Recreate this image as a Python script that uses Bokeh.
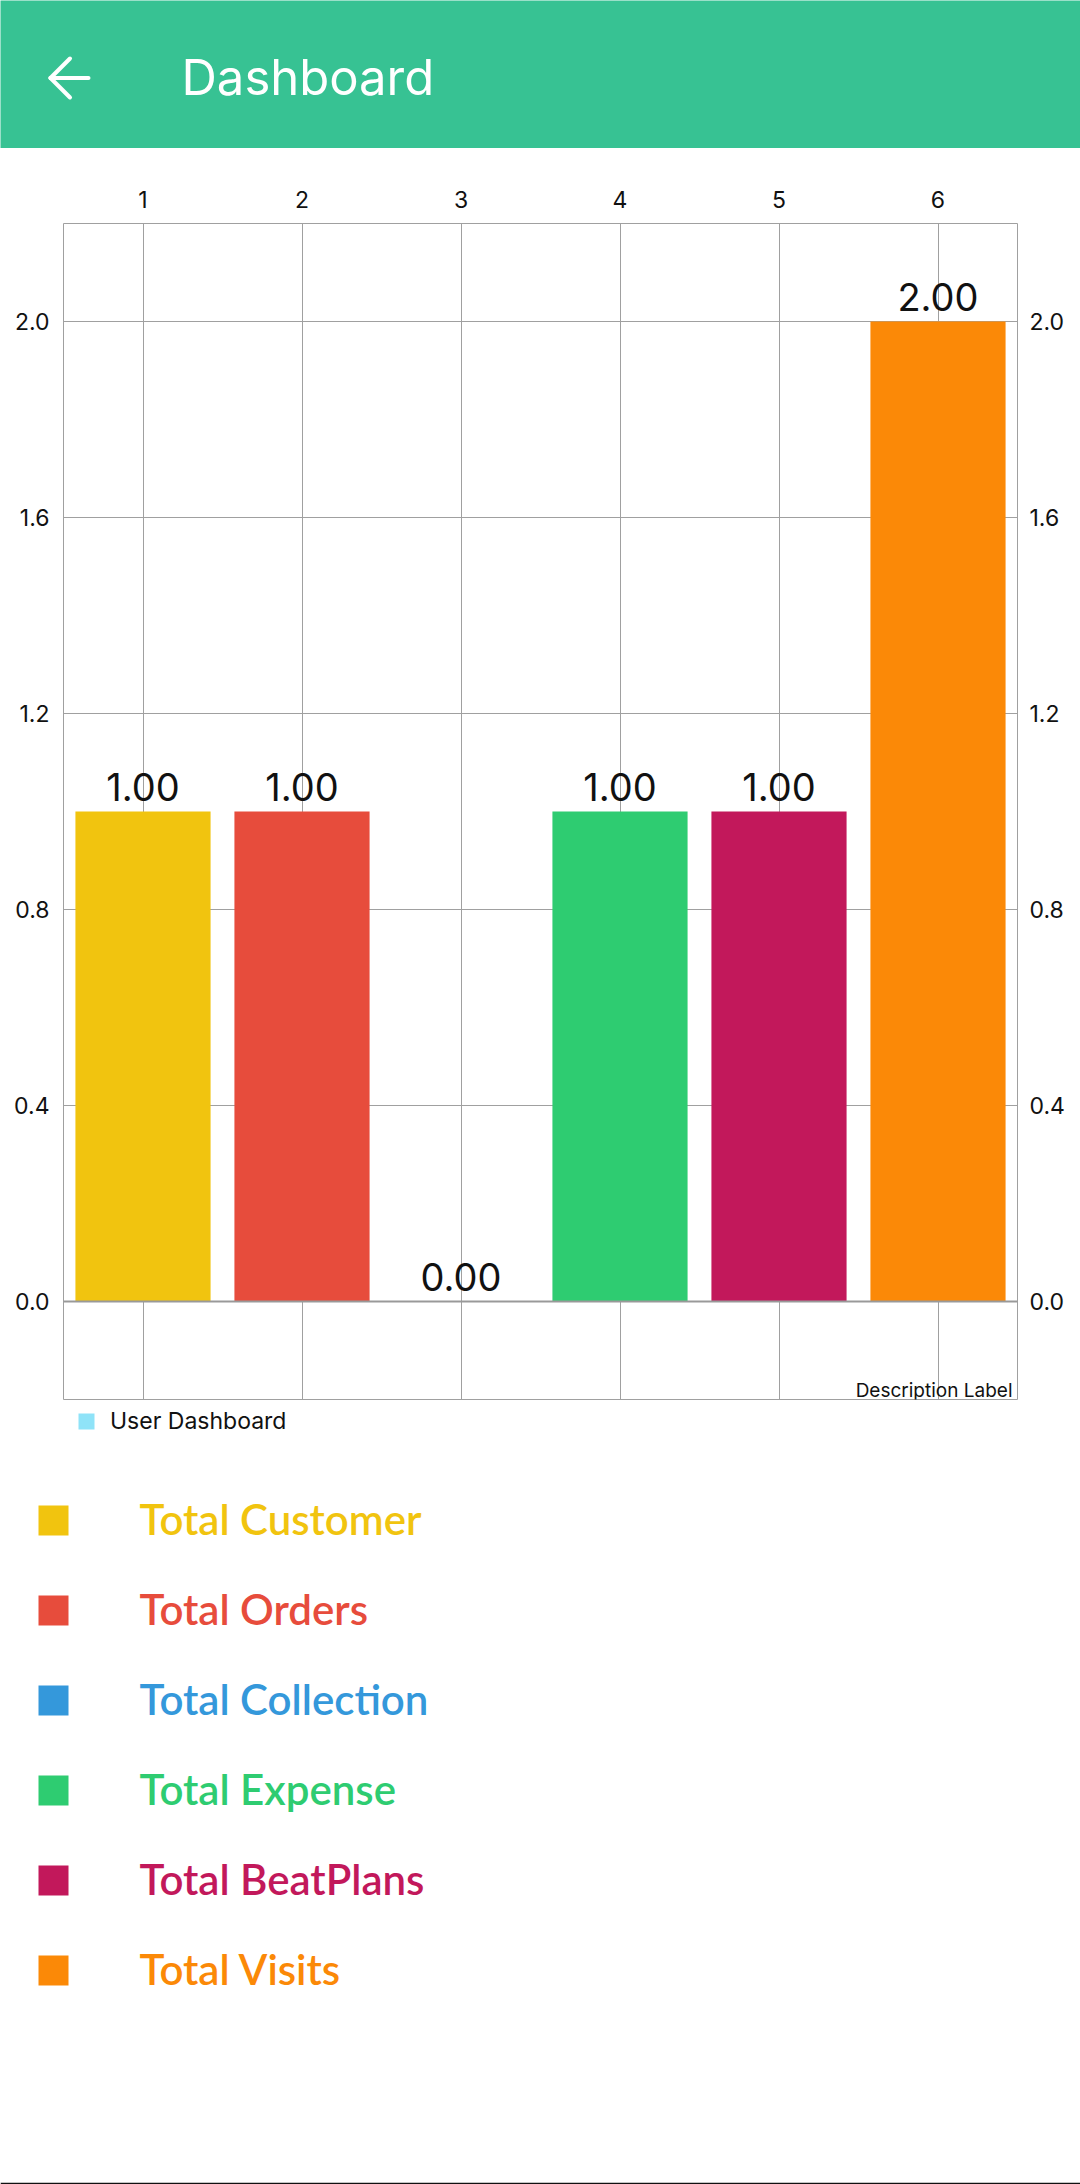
from bokeh.plotting import figure
from bokeh.layouts import column
from bokeh.models import (Range1d, FixedTicker, LinearAxis, Span, Label, Legend,
                          LegendItem, PrintfTickFormatter, ColumnDataSource)
from bokeh.core.properties import value
from bokeh.embed import file_html
from bokeh.resources import INLINE

# ---------------- data ----------------
title = "Dashboard"
categories = ["Total Customer", "Total Orders", "Total Collection",
              "Total Expense", "Total BeatPlans", "Total Visits"]
x_positions = [1, 2, 3, 4, 5, 6]
x_tick_labels = ["1", "2", "3", "4", "5", "6"]
values = [1.0, 1.0, 0.0, 1.0, 1.0, 2.0]
colors = ["#F1C40F", "#E74C3C", "#3498DB", "#2ECC71", "#C2185B", "#FB8907"]
y_ticks = [0.0, 0.4, 0.8, 1.2, 1.6, 2.0]
dataset_label = "User Dashboard"
dataset_color = "#8FE3F8"
description = "Description Label"

# ---------------- layout constants ----------------
W = 1080
HEADER_H = 148
CHART_H = 75 + 1176 + 2
LEGEND_H = 2184 - HEADER_H - CHART_H
GREEN = "#37C293"
GRID = "#A0A0A0"
FONT = "Inter"

# ---------------- header ----------------
hdr = figure(width=W, height=HEADER_H, x_range=Range1d(0, W), y_range=Range1d(HEADER_H, 0),
             x_axis_type=None, y_axis_type=None, min_border=0,
             output_backend="svg", toolbar_location=None)
hdr.grid.visible = False
hdr.outline_line_color = None
hdr.background_fill_color = GREEN
hdr.border_fill_color = GREEN
hdr.segment(x0=[50, 50, 50], y0=[77.5, 77.5, 77.5], x1=[88, 69.5, 69.5], y1=[77.5, 58, 97],
            line_color="white", line_width=4, line_cap="round")
hdr.text(x=[181], y=[97], text=[title], text_font=value(FONT), text_font_size="49px",
         text_color="white", text_baseline="alphabetic", text_align="left", y_offset=-20)

# ---------------- chart ----------------
p = figure(width=W, height=CHART_H, x_range=Range1d(0.5, 6.5), y_range=Range1d(-0.2, 2.2),
           x_axis_location="above", output_backend="svg", toolbar_location=None,
           min_border_left=63, min_border_right=63, min_border_top=75, min_border_bottom=2)
p.outline_line_color = GRID
p.outline_line_width = 1
p.background_fill_color = "white"

xt = FixedTicker(ticks=x_positions)
yt = FixedTicker(ticks=y_ticks)
p.xaxis.ticker = xt
p.xaxis.major_label_overrides = {x: lab for x, lab in zip(x_positions, x_tick_labels)}
p.yaxis.ticker = yt
p.yaxis.formatter = PrintfTickFormatter(format="%.1f")
p.xgrid.ticker = xt
p.ygrid.ticker = yt
p.xgrid.grid_line_color = GRID
p.ygrid.grid_line_color = GRID
p.xgrid.grid_line_width = 1
p.ygrid.grid_line_width = 1

right_axis = LinearAxis(ticker=yt, formatter=PrintfTickFormatter(format="%.1f"))
p.add_layout(right_axis, "right")

for ax, standoff in ((p.xaxis[0], 16), (p.yaxis[0], 14), (right_axis, 12)):
    ax.axis_line_color = None
    ax.major_tick_line_color = None
    ax.minor_tick_line_color = None
    ax.major_tick_out = 0
    ax.major_tick_in = 0
    ax.major_label_standoff = standoff
    ax.major_label_text_font = FONT
    ax.major_label_text_font_size = "23px"
    ax.major_label_text_color = "#111111"

src = ColumnDataSource(dict(x=x_positions, top=values, color=colors,
                            label=[f"{v:.2f}" for v in values]))
p.vbar(x="x", top="top", bottom=0, width=0.85, fill_color="color", line_color=None, source=src)
p.add_layout(Span(location=0, dimension="width", line_color="#999999", line_width=2))
p.text(x="x", y="top", text="label", source=src, text_align="center",
       text_baseline="alphabetic", y_offset=-25, text_font=value(FONT),
       text_font_size="38px", text_color="#111111")

p.add_layout(Label(x=6.5, y=-0.2, text=description, text_align="right",
                   text_baseline="alphabetic", x_offset=-5, y_offset=9,
                   text_font=FONT, text_font_size="19px", text_color="#111111"))

# ---------------- dataset legend + colour key ----------------
ROW0 = 119
ROW_STEP = 90
FRAME_H = LEGEND_H - 2
lg = figure(width=W, height=LEGEND_H, x_range=Range1d(0, W),
            y_range=Range1d((FRAME_H - ROW0) / ROW_STEP, -ROW0 / ROW_STEP),
            x_axis_type=None, y_axis_type=None, min_border=0, min_border_bottom=2,
            output_backend="svg", toolbar_location=None)
lg.grid.visible = False
lg.outline_line_color = None
lg.border_fill_color = "#111111"

dummy = lg.rect(x=[float("nan")], y=[float("nan")], width=1, height=1,
                fill_color=dataset_color, line_color=None)
legend = Legend(items=[LegendItem(label=dataset_label, renderers=[dummy], index=0)],
                location=(76, FRAME_H - 6 - 28), orientation="horizontal",
                glyph_width=20, glyph_height=20, label_standoff=14,
                label_text_font=FONT, label_text_font_size="23px", label_text_color="#111111",
                margin=0, padding=0, spacing=0, border_line_color=None,
                background_fill_alpha=0)
lg.add_layout(legend, "center")

rows = list(range(len(categories)))
lg.rect(x=53, y=rows, width=30, height=30, width_units="screen", height_units="screen",
        fill_color=colors, line_color=None)
lg.text(x=139, y=rows, text=categories, text_color=colors,
        text_font=value("Lato Semibold, Lato"),
        text_font_size="42px", text_baseline="alphabetic", y_offset=-2)

layout = column(column(hdr), column(p), column(lg), spacing=0)
open("out.html", "w").write(file_html(layout, INLINE))
